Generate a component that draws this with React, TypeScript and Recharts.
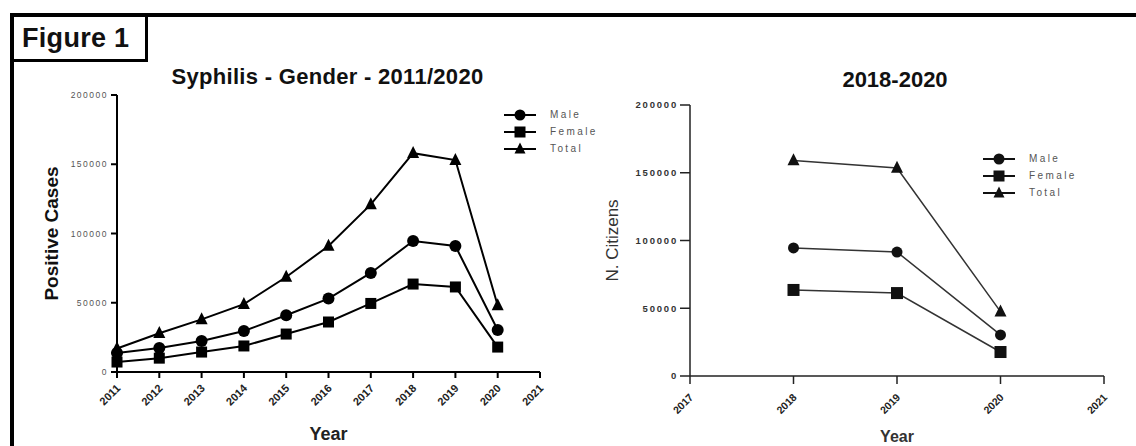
import React from "react";
import { LineChart, Line, XAxis, YAxis, Legend } from "recharts";

// Syphilis positive cases by gender, 2011-2020
const YEARS = [2011, 2012, 2013, 2014, 2015, 2016, 2017, 2018, 2019, 2020];
const MALE = [13700, 17300, 22400, 29600, 41000, 53000, 71500, 94600, 91000, 30300];
const FEMALE = [7200, 10000, 14400, 18800, 27400, 36100, 49500, 63500, 61400, 18000];
const TOTAL = [17000, 28000, 38000, 49000, 68600, 91000, 121000, 158000, 153000, 48000];

// zoom on the last three years
const RECENT_YEARS = [2018, 2019, 2020];
const RECENT_MALE = [94500, 91500, 30300];
const RECENT_FEMALE = [63500, 61200, 17700];
const RECENT_TOTAL = [159000, 153500, 47500];

const LEFT_X_TICKS = [2011, 2012, 2013, 2014, 2015, 2016, 2017, 2018, 2019, 2020, 2021];
const RIGHT_X_TICKS = [2017, 2018, 2019, 2020, 2021];
const Y_TICKS = [0, 50000, 100000, 150000, 200000];

const SERIES = ["Male", "Female", "Total"];
const SHAPES: Record<string, string> = { Male: "circle", Female: "square", Total: "triangle" };
const FONT = "'Liberation Sans', Arial, sans-serif";

const leftRows = YEARS.map((year, i) => ({ year, Male: MALE[i], Female: FEMALE[i], Total: TOTAL[i] }));
const rightRows = RECENT_YEARS.map((year, i) => ({
  year,
  Male: RECENT_MALE[i],
  Female: RECENT_FEMALE[i],
  Total: RECENT_TOTAL[i],
}));

function Marker({ cx, cy, shape, size, color }: any) {
  if (cx == null || cy == null) return null;
  if (shape === "circle") return <circle cx={cx} cy={cy} r={size / 2} fill={color} />;
  if (shape === "square")
    return <rect x={cx - size / 2} y={cy - size / 2} width={size} height={size} fill={color} />;
  const h = size;
  return (
    <polygon
      points={`${cx},${cy - h * 0.6} ${cx + h / 2},${cy + h * 0.4} ${cx - h / 2},${cy + h * 0.4}`}
      fill={color}
    />
  );
}

function dotFor(name: string, size: number, color: string) {
  return (p: any) => (
    <Marker key={`${name}-${p.index}`} cx={p.cx} cy={p.cy} shape={SHAPES[name]} size={size} color={color} />
  );
}

// legend box is absolutely positioned so Recharts reserves no room for it
function FigLegend({ payload, color }: any) {
  const items = [...(payload || [])].sort(
    (a: any, b: any) => SERIES.indexOf(a.value) - SERIES.indexOf(b.value)
  );
  return (
    <div style={{ position: "relative", height: 0 }}>
      <div style={{ position: "absolute", left: 0, top: 0, fontFamily: FONT, whiteSpace: "nowrap" }}>
        {items.map((entry: any) => (
          <div key={entry.value} style={{ display: "flex", alignItems: "center", height: 17 }}>
            <svg width={32} height={14}>
              <line x1={0} y1={7} x2={32} y2={7} stroke={color} strokeWidth={2} />
              <Marker cx={16} cy={7} shape={SHAPES[entry.value]} size={11} color={color} />
            </svg>
            <span style={{ marginLeft: 14, fontSize: 10, letterSpacing: 2.4, color: "#555" }}>{entry.value}</span>
          </div>
        ))}
      </div>
    </div>
  );
}

function YearTick({ x, y, payload, dy, size }: any) {
  const tx = x + 4;
  const ty = y + dy;
  return (
    <text
      x={tx}
      y={ty}
      transform={`rotate(-45 ${tx} ${ty})`}
      textAnchor="end"
      fontSize={size}
      fontWeight="bold"
      fill="#222"
      fontFamily={FONT}
    >
      {payload.value}
    </text>
  );
}

export default function App() {
  return (
    <div
      style={{
        position: "absolute",
        left: 0,
        top: 0,
        width: 1136,
        height: 446,
        overflow: "hidden",
        background: "#fff",
        fontFamily: FONT,
      }}
    >
      {/* figure frame */}
      <div
        style={{
          position: "absolute",
          left: 10,
          top: 13,
          width: 1140,
          height: 450,
          borderTop: "4px solid #000",
          borderLeft: "4px solid #000",
        }}
      />
      <div
        style={{
          position: "absolute",
          left: 10,
          top: 13,
          width: 123,
          height: 43,
          border: "3px solid #000",
          fontSize: 27,
          fontWeight: "bold",
          lineHeight: "45px",
          paddingLeft: 9,
          letterSpacing: 0.3,
          color: "#111",
        }}
      >
        Figure 1
      </div>

      <div
        style={{
          position: "absolute",
          left: 0,
          width: 655,
          top: 64,
          textAlign: "center",
          fontSize: 22,
          letterSpacing: 0.3,
          fontWeight: "bold",
          color: "#111",
        }}
      >
        Syphilis - Gender - 2011/2020
      </div>
      <div
        style={{
          position: "absolute",
          left: 795,
          width: 200,
          top: 67,
          textAlign: "center",
          fontSize: 22,
          fontWeight: "bold",
          color: "#111",
        }}
      >
        2018-2020
      </div>

      {/* left: full period */}
      <div style={{ position: "absolute", left: 0, top: 0 }}>
        <LineChart width={620} height={446} data={leftRows} margin={{ top: 95, right: 80, left: 0, bottom: 0 }}>
          <XAxis
            dataKey="year"
            type="number"
            domain={[2011, 2021]}
            ticks={LEFT_X_TICKS}
            interval={0}
            height={74}
            stroke="#000"
            strokeWidth={2}
            tickSize={6}
            tickMargin={2}
            tick={<YearTick dy={9} size={11} />}
            label={{ value: "Year", position: "insideBottom", offset: 6, fontSize: 18, fontWeight: "bold", fill: "#222" }}
          />
          <YAxis
            type="number"
            domain={[0, 200000]}
            ticks={Y_TICKS}
            interval={0}
            width={117}
            stroke="#000"
            strokeWidth={2}
            tickSize={6}
            tickMargin={3}
            tick={{ fontSize: 8.5, letterSpacing: 1.5, fill: "#555", fontFamily: FONT }}
            label={{
              value: "Positive Cases",
              angle: -90,
              position: "center",
              dx: -7,
              fontSize: 19,
              fontWeight: "bold",
              fill: "#111",
            }}
          />
          <Legend
            layout="vertical"
            wrapperStyle={{ position: "absolute", left: 504, top: 106, width: 0, height: 0 }}
            content={<FigLegend color="#000" />}
          />
          {SERIES.map((name) => (
            <Line
              key={name}
              dataKey={name}
              name={name}
              stroke="#000"
              strokeWidth={2}
              dot={dotFor(name, name === "Female" ? 11 : 12, "#000")}
              isAnimationActive={false}
            />
          ))}
        </LineChart>
      </div>

      {/* right: 2018-2020 */}
      <div style={{ position: "absolute", left: 560, top: 0 }}>
        <LineChart width={576} height={446} data={rightRows} margin={{ top: 105, right: 32, left: 0, bottom: 0 }}>
          <XAxis
            dataKey="year"
            type="number"
            domain={[2017, 2021]}
            ticks={RIGHT_X_TICKS}
            interval={0}
            height={70}
            stroke="#222"
            strokeWidth={1.5}
            tickSize={8}
            tickMargin={2}
            tick={<YearTick dy={12} size={10.5} />}
            label={{ value: "Year", position: "insideBottom", offset: 4, fontSize: 16, fontWeight: "bold", fill: "#333" }}
          />
          <YAxis
            type="number"
            domain={[0, 200000]}
            ticks={Y_TICKS}
            interval={0}
            width={130}
            stroke="#222"
            strokeWidth={1.5}
            tickSize={10}
            tickMargin={2}
            tick={{ fontSize: 9.5, letterSpacing: 1.8, fill: "#333", fontWeight: "bold", fontFamily: FONT }}
            label={{
              value: "N. Citizens",
              angle: -90,
              position: "center",
              dx: -13,
              fontSize: 17,
              fill: "#333",
            }}
          />
          <Legend
            layout="vertical"
            wrapperStyle={{ position: "absolute", left: 423, top: 150, width: 0, height: 0 }}
            content={<FigLegend color="#111" />}
          />
          {SERIES.map((name) => (
            <Line
              key={name}
              dataKey={name}
              name={name}
              stroke="#333"
              strokeWidth={1.5}
              dot={dotFor(name, name === "Male" ? 11 : 12, "#111")}
              isAnimationActive={false}
            />
          ))}
        </LineChart>
      </div>
    </div>
  );
}
